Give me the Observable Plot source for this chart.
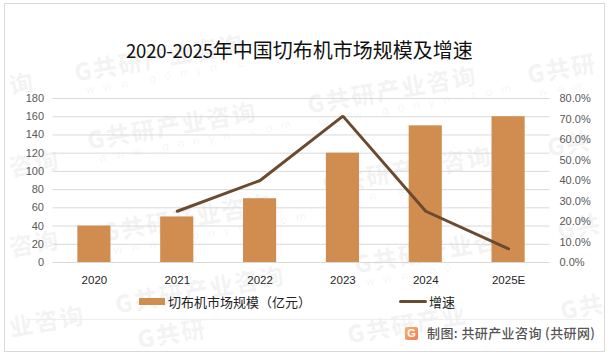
<!DOCTYPE html>
<html><head><meta charset="utf-8">
<script src="https://cdn.jsdelivr.net/npm/d3@7"></script>
<script src="https://cdn.jsdelivr.net/npm/@observablehq/plot@0.6"></script>
<style>
html,body{margin:0;padding:0;background:#fff;}
#wrap{position:relative;width:610px;height:356px;overflow:hidden;font-family:"Noto Sans CJK SC",sans-serif;}
#chart{position:absolute;left:0;top:0;}
#chart svg{display:block;background:transparent;}
.abs{position:absolute;white-space:nowrap;}
.wm{position:absolute;transform:rotate(-10deg);transform-origin:left top;line-height:1;pointer-events:none;white-space:nowrap;}
.wm b{display:block;font-size:24px;letter-spacing:1.5px;color:rgba(70,70,70,.06);font-weight:900;}
.wm i{display:block;font-style:normal;font-family:"Liberation Sans";font-size:12px;letter-spacing:9px;color:rgba(70,70,70,.07);margin:2px 0 0 8px;}
</style></head><body>
<div id="wrap"><div id="wms"></div><div id="chart"></div></div>
<script>
const years = ["2020","2021","2022","2023","2024","2025E"];
const marketSize = [40,50,70,120,150,160];
const growthRate = [null,25,40,71.4,25,6.7];
const leftTicks = [0,20,40,60,80,100,120,140,160,180];
const rightTicks = [0,10,20,30,40,50,60,70,80];
const titleText = "年中国切布机市场规模及增速";
const titleYears = "2020-2025";
const legendBar = "切布机市场规模（亿元）";
const legendLine = "增速";
const sourceText = "制图: 共研产业咨询 (共研网)";
const wmFull = "G共研产业咨询", wmUrl = "www.gonyn.com";
const wmSpots = [
  [72,60,wmFull,wmUrl],[85,128,wmFull,wmUrl],[100,220,wmFull,wmUrl],[113,292,wmFull,null],
  [135,327,"G共研",null],
  [305,92,wmFull,wmUrl],[320,172,wmFull,"www.gon"],[352,252,wmFull,"www.go"],[345,322,"G共研产业",null],
  [525,62,"G共研","www"],[545,135,"G共",null],[555,218,"G共",null],[558,298,"G共",null],
  [7,73,"询",null],[7,155,"咨询",null],[7,235,"咨询",null],[7,315,"业咨询",null]
];
const scaleRatio = 180/80;
const rows = years.map((y,i)=>({year:y,size:marketSize[i],rate:growthRate[i]}));
const barColor="#d18c4f", lineColor="#6b4a2f", gridColor="#d9d9d9", tickColor="#595959";

const plot = Plot.plot({
  width:610,height:356,
  marginLeft:52.5,marginRight:60.5,marginTop:98,marginBottom:94,
  style:{background:"transparent",fontFamily:"'Liberation Sans',sans-serif"},
  x:{domain:years,paddingInner:0.6,paddingOuter:0.3,align:0.5,round:false,label:null},
  y:{domain:[0,180],label:null},
  marks:[
    Plot.ruleY(leftTicks,{stroke:gridColor,strokeWidth:1}),
    Plot.barY(rows,{x:"year",y:"size",fill:barColor}),
    Plot.line(rows.filter(d=>d.rate!=null),{x:"year",y:d=>d.rate*scaleRatio,stroke:lineColor,strokeWidth:3,strokeLinecap:"round",strokeLinejoin:"miter"}),
    Plot.axisY(leftTicks,{anchor:"left",tickSize:0,tickPadding:9,fontSize:11,color:tickColor,label:null}),
    Plot.axisY(rightTicks.map(t=>t*scaleRatio),{anchor:"right",tickSize:0,tickPadding:9.5,fontSize:11,color:tickColor,label:null,tickFormat:d=>(d/scaleRatio).toFixed(1)+"%"}),
    Plot.axisX(years,{tickSize:0,tickPadding:13,fontSize:11.5,color:"#262626",label:null})
  ]
});
document.getElementById("chart").append(plot);

const wrap=document.getElementById("wrap");
function add(css,text){const d=document.createElement("div");d.className="abs";d.style.cssText=css;if(text!=null)d.textContent=text;wrap.append(d);return d;}
add("left:4px;top:3px;width:599px;height:347px;border:1px solid #d9d9d9;");
const t=add("left:126px;top:35px;font-size:20px;line-height:30px;color:#111;");
t.innerHTML='<span style="font-size:18.5px;letter-spacing:-.2px">'+titleYears+'</span>'+titleText;
add("left:139px;top:298px;width:26px;height:7px;background:"+barColor+";");
add("left:168px;top:292px;font-size:13px;line-height:19px;color:#222;",legendBar);
add("left:399px;top:300px;width:28px;height:3px;border-radius:2px;background:"+lineColor+";");
add("left:429px;top:292px;font-size:13px;line-height:19px;color:#222;",legendLine);
add("left:26px;top:319px;width:566px;height:1px;background:#eeeeee;");
add("left:427px;top:323px;font-size:13px;letter-spacing:.4px;line-height:19px;color:#555;font-weight:500;",sourceText);
add("left:405px;top:327px;width:13px;height:13px;border-radius:2px;background:linear-gradient(135deg,#f7b267,#ef7d5a);color:#fff;font:bold 11px/13px 'Liberation Sans';text-align:center;","G");

const w=document.getElementById("wms");
wmSpots.forEach(([x,y,text,url])=>{
  const d=document.createElement("div");d.className="wm";
  d.style.left=x+"px";d.style.top=y+"px";
  d.innerHTML="<b>"+text+"</b>"+(url?"<i>"+url+"</i>":"");
  w.append(d);
});
</script></body></html>
